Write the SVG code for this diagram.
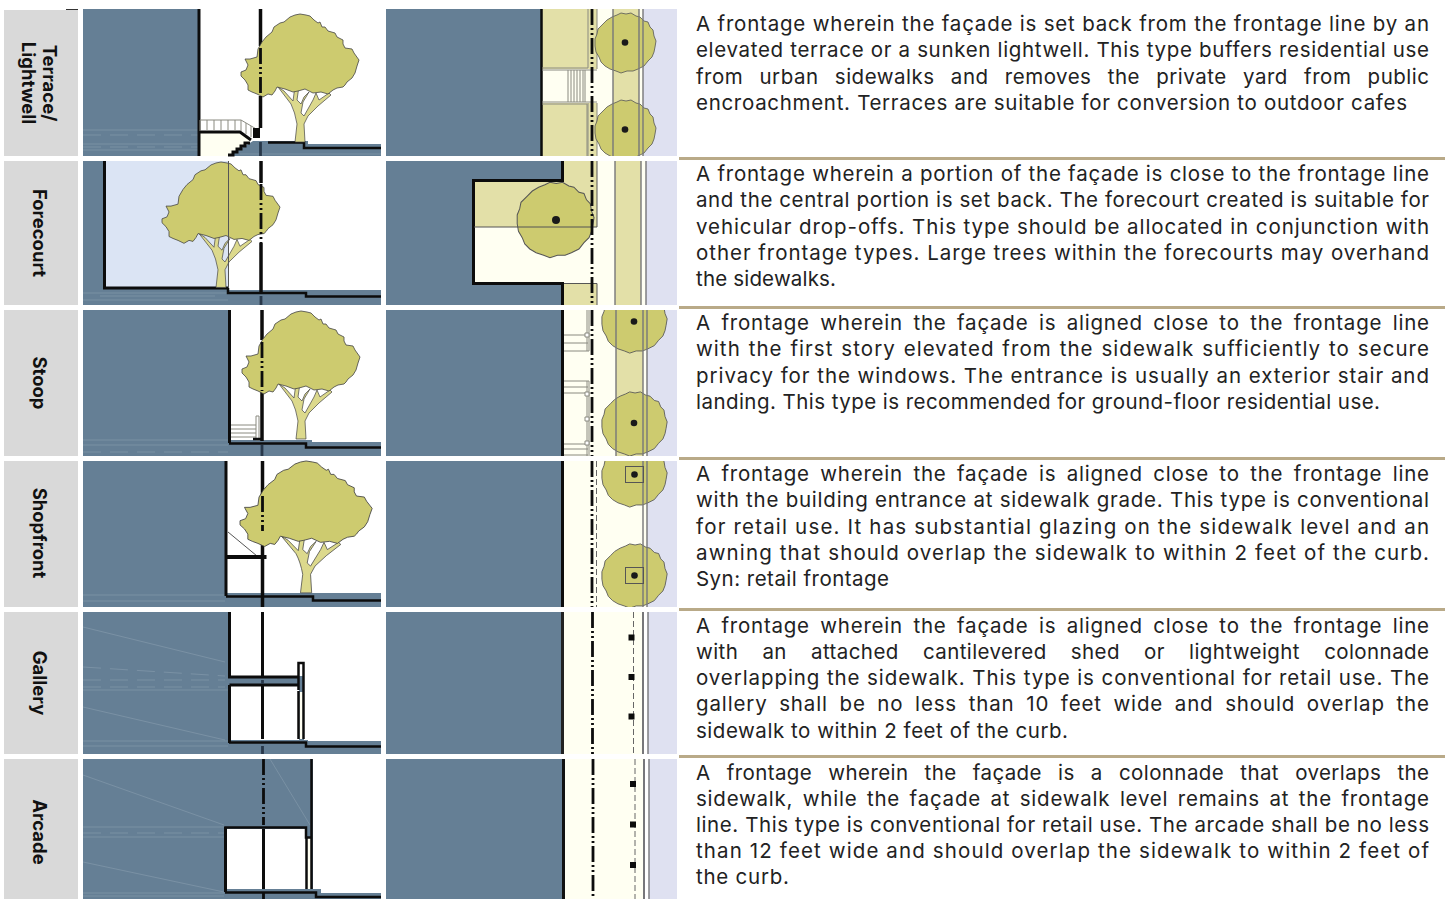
<svg xmlns="http://www.w3.org/2000/svg" xmlns:xlink="http://www.w3.org/1999/xlink" width="1453" height="899" viewBox="0 0 1453 899">
<style>
.bg{fill:#fff}
.lab{fill:#d9d9d9}
.lt{font-family:"Inter","Liberation Sans",sans-serif;font-size:18.5px;font-weight:700;fill:#111;text-anchor:middle}
.tx{font-family:"Inter","Liberation Sans",sans-serif;font-size:20.5px;fill:#222}
.b{fill:#657f95}
.y{fill:#e3e0a8}
.c{fill:#fffff2}
.lv{fill:#dfe1f1}
.k{fill:none;stroke:#0c0c0c;stroke-width:3}
.k2{fill:none;stroke:#0c0c0c;stroke-width:2.5}
.kf{fill:#0c0c0c}
.th{fill:none;stroke:#555;stroke-width:1}
.g{fill:none;stroke:#8a8a80;stroke-width:1}
.gl{fill:none;stroke:#77777a;stroke-width:1.4}
.dd{fill:none;stroke:#0c0c0c;stroke-width:2.8;stroke-dasharray:16 3 2 3 2 3}
.ds{fill:none;stroke:#666;stroke-width:1;stroke-dasharray:6 3}
.st{fill:none;stroke:#a9bac8;stroke-width:1;opacity:.3}
.sd{fill:none;stroke:#a9bac8;stroke-width:1;opacity:.3;stroke-dasharray:18 9}
.dot{fill:#1a1a1a}
.sep{fill:#b9aa88}
</style>
<defs>
<g id="tree" transform="translate(-241,-14)">
<path d="M295 142L297 124Q295 112 291 104L278 87L284 91L293 101L295 86L299 86L297 100L301 104L304 97L309 92L303 102L301 113L304 116L313 100L316 93L319 100L329 93L331 95L318 106L308 116L304 124L305 142Z" fill="#dcd98c" stroke="#444" stroke-width=".7"/>
<path d="M290 17L295 15L300 14L306 15L310 16L314 20L318 23L320 22L322 27L325 27L328 31L335 33L337 37L343 40L343 44L345 48L352 49L354 53L359 60L357 66L355 73L352 78L347 82L345 85L343 87L337 88L333 90L328 94L321 92L313 93L305 89L298 91L293 92L285 89L277 87L275 91L272 95L268 94L263 97L257 94L252 92L248 90L248 85L245 80L241 76L241 72L246 70L248 65L245 59L250 59L257 57L258 49L262 42L266 37L272 32L274 27L280 23L284 22Z" fill="#cdcb6f" stroke="#444" stroke-width=".8"/>
</g>
<path id="can" d="M-4-30L1-29L6-30L11-27L15-26L19-22L23-21L25-16L28-13L29-7L31-2L30 4L29 9L27 14L23 18L19 23L13 26L8 28L2 28L-4 30L-9 28L-15 26L-20 23L-24 19L-26 14L-29 9L-30 3L-30-4L-28-9L-27-14L-22-19L-18-23L-13-26L-8-28Z" fill="#cdcb6f" stroke="#555" stroke-width=".8"/>
<clipPath id="p1"><rect x="386" y="9" width="291" height="147"/></clipPath>
<clipPath id="p3"><rect x="386" y="310" width="291" height="146"/></clipPath>
<clipPath id="p4"><rect x="386" y="461" width="291" height="146"/></clipPath>
</defs>
<rect class="bg" width="1453" height="899"/>

<g id="separators">
<rect class="sep" x="679" y="157" width="766" height="3"/>
<rect class="sep" x="679" y="306" width="766" height="3"/>
<rect class="sep" x="679" y="457" width="766" height="3"/>
<rect class="sep" x="679" y="608" width="766" height="3"/>
<rect class="sep" x="679" y="755" width="766" height="3"/>
</g>

<g id="row-terrace">
<rect class="lab" x="4" y="10" width="74" height="146"/>
<path d="M66 9.500H78" stroke="#333" stroke-width="1" fill="none"/>
<text class="lt" transform="translate(43,83) rotate(90)">Terrace/</text>
<text class="lt" transform="translate(22,83) rotate(90)">Lightwell</text>
<rect class="b" x="83" y="9" width="116" height="147"/>
<path class="st" d="M83 130H198M83 144H198M83 150H198"/>
<path class="sd" d="M83 135H198M83 147H198"/>
<path class="c" d="M200 133H240L250 141L229 156H200Z"/>
<path class="b" d="M229 156L253 141H308V144H381V156Z"/>
<path class="st" d="M240 154H381"/>
<path class="k" d="M199 9V156"/>
<path class="k" d="M199 132H240L251 140"/>
<path class="k" d="M228 155H233V152H237V149H241V146H245V143H250"/>
<path class="g" d="M200 120H241L258 130M200 131V120M207 131V120M214 131V120M221 131V120M228 131V120M235 131V120M241 131V120M246 134V123M251 137V126"/>
<rect class="kf" x="253" y="128" width="7" height="10"/>
<path class="k2" d="M268 142.500H304V148H381"/>
<path class="k" style="stroke-width:3.500" d="M260.500 9V46M260.500 96V128"/>
<use xlink:href="#tree" href="#tree" transform="translate(241,14)"/>
<path class="dd" d="M260.500 48V97"/>
<path class="dd" d="M260.500 142V156" style="stroke:#28384a"/>
<rect class="b" x="386" y="9" width="155" height="147"/>
<rect class="y" x="542" y="9" width="55" height="60"/>
<rect class="c" x="542" y="69" width="55" height="34"/>
<rect class="y" x="542" y="103" width="55" height="53"/>
<rect class="c" x="597" y="9" width="16" height="147"/>
<rect class="y" x="613" y="9" width="26" height="147"/>
<rect class="c" x="639" y="9" width="4" height="147"/>
<rect class="lv" x="643" y="9" width="34" height="147"/>
<path class="k2" d="M541.500 9V156"/>
<path class="g" d="M542 68H588V9M542 70H597M542 102H597M542 104H587V156M588 103V156M597 9V69M597 103V156M568 70V102M571 70V102M574 70V102M577 70V102M580 70V102M583 70V102M585 70V102"/>
<path class="dd" d="M592 9V156"/>
<g clip-path="url(#p1)"><use xlink:href="#can" href="#can" transform="translate(625,43)"/><use xlink:href="#can" href="#can" transform="translate(625,130)"/></g>
<path class="gl" d="M613 9V156M639 9V156M643 9V156"/>
<circle class="dot" cx="625" cy="42.500" r="3.300"/><circle class="dot" cx="625" cy="129.500" r="3.300"/>
</g>

<g id="row-forecourt">
<rect class="lab" x="4" y="161" width="74" height="144"/>
<text class="lt" transform="translate(33,233) rotate(90)">Forecourt</text>
<rect class="b" x="83" y="161" width="298" height="144"/>
<rect x="105" y="161" width="124" height="127" fill="#dbe4f4"/>
<rect class="bg" x="229" y="161" width="152" height="129"/>
<path class="b" d="M229 290H312V293H381V296H229Z"/>
<path class="st" d="M83 293H228M83 300H228M100 296H215"/>
<path class="k" d="M104.500 161V288H228"/>
<path class="k2" d="M228 288V293H306V296.500H381"/>
<path class="k" style="stroke-width:3.500" d="M261 161V183M261 243V293"/>
<use xlink:href="#tree" href="#tree" transform="translate(162,162) scale(1,.98)"/>
<path class="th" d="M228.500 161V288"/>
<path class="dd" d="M261 184V243"/>
<path class="dd" d="M261 296V305" style="stroke:#28384a"/>
<rect class="b" x="386" y="161" width="177" height="144"/>
<rect class="y" x="474" y="181" width="123" height="46"/>
<rect class="y" x="563" y="161" width="34" height="20"/>
<rect class="c" x="474" y="227" width="141" height="56"/>
<rect class="y" x="563" y="283" width="34" height="22"/>
<rect class="c" x="597" y="161" width="18" height="144"/>
<rect class="y" x="615" y="161" width="26" height="144"/>
<rect class="c" x="641" y="161" width="5" height="144"/>
<rect class="lv" x="646" y="161" width="31" height="144"/>
<use xlink:href="#can" href="#can" transform="translate(555,220) scale(1.26)"/>
<path class="k" d="M562.500 161V180.500H473.500V283.500H562.500V305"/>
<path class="th" d="M474 227H597V161M564 283.500H597V305"/>
<path class="dd" d="M592 161V305"/>
<path class="gl" d="M615 161V305M641 161V305M646 161V305"/>
<circle class="dot" cx="556" cy="220" r="4"/>
</g>

<g id="row-stoop">
<rect class="lab" x="4" y="310" width="74" height="146"/>
<text class="lt" transform="translate(33,383) rotate(90)">Stoop</text>
<rect class="b" x="83" y="310" width="298" height="146"/>
<rect class="bg" x="231" y="310" width="150" height="132"/>
<path class="b" d="M231 440H312V443H381V447H231Z"/>
<path class="st" d="M83 440H228M83 445H228"/>
<path class="sd" d="M83 452H228"/>
<path class="k" d="M229.500 310V443"/>
<path class="k2" d="M229 443.500H306V447.500H381"/>
<path class="g" d="M231 425H256M231 429H256M231 433H256M231 437H256M256 416H259V440H256Z" style="fill:none"/>
<path class="k2" d="M253 439H262"/>
<path class="k" style="stroke-width:3.500" d="M262 310V340M262 390V441"/>
<use xlink:href="#tree" href="#tree" transform="translate(242,311)"/>
<path class="dd" d="M262 342V391"/>
<path class="dd" d="M262 445V456" style="stroke:#28384a"/>
<rect class="b" x="386" y="310" width="176" height="146"/>
<rect class="c" x="563" y="310" width="53" height="146"/>
<rect class="y" x="616" y="310" width="27" height="146"/>
<rect class="c" x="643" y="310" width="4" height="146"/>
<rect class="lv" x="647" y="310" width="30" height="146"/>
<path class="k" d="M562.500 310V456"/>
<path class="g" d="M564 335H588M564 343H588M564 351H589M564 381H589M564 387H588M564 393H588M564 444H588M564 449H588M564 455H588M587 310V351M589 310V351M587 381V456M589 381V456"/>
<path class="g" d="M585 333h4v4h-4zM585 392h4v4h-4zM585 417h4v4h-4zM585 441h4v4h-4z" style="fill:#fff"/>
<path class="dd" d="M592 310V456"/>
<g clip-path="url(#p3)"><use xlink:href="#can" href="#can" transform="translate(634,321) scale(1.07)"/><use xlink:href="#can" href="#can" transform="translate(634,424) scale(1.07)"/></g>
<path class="gl" d="M616 310V456M643 310V456M647 310V456"/>
<circle class="dot" cx="634" cy="321.500" r="3.300"/><circle class="dot" cx="634" cy="423" r="3.300"/>
</g>

<g id="row-shopfront">
<rect class="lab" x="4" y="461" width="74" height="146"/>
<text class="lt" transform="translate(33,533) rotate(90)">Shopfront</text>
<rect class="b" x="83" y="461" width="298" height="146"/>
<rect class="bg" x="227" y="461" width="154" height="132"/>
<path class="b" d="M227 593H318V597H381V600H227Z"/>
<path class="st" d="M83 595H225M83 601H225"/>
<path class="k" d="M226 461V596"/>
<path class="k2" d="M226 596.500H313V600.500H381"/>
<path class="th" d="M228 532L257 556"/>
<path class="k" style="stroke-width:4" d="M227 557H266.500"/>
<path class="k" style="stroke-width:3.500" d="M262.500 461V495M262.500 530V607"/>
<use xlink:href="#tree" href="#tree" transform="translate(240,461) scale(1.12,1.03)"/>
<path class="dd" d="M262.500 496V531"/>
<rect class="b" x="386" y="461" width="176" height="146"/>
<rect class="c" x="563" y="461" width="80" height="146"/>
<rect class="c" x="643" y="461" width="4" height="146"/>
<rect class="lv" x="647" y="461" width="30" height="146"/>
<path class="k" d="M562.500 461V607"/>
<path class="dd" d="M592 461V607"/>
<path class="ds" d="M596.500 461V607"/>
<g clip-path="url(#p4)"><use xlink:href="#can" href="#can" transform="translate(634,475) scale(1.07)"/><use xlink:href="#can" href="#can" transform="translate(634,576) scale(1.07)"/></g>
<path class="gl" d="M643 461V607M647 461V607"/>
<rect x="625.500" y="466.500" width="18" height="16" class="th"/><rect x="625.500" y="567.500" width="18" height="16" class="th"/>
<circle class="dot" cx="634.500" cy="474.500" r="3.300"/><circle class="dot" cx="634.500" cy="575.500" r="3.300"/>
</g>

<g id="row-gallery">
<rect class="lab" x="4" y="612" width="74" height="142"/>
<text class="lt" transform="translate(33,683) rotate(90)">Gallery</text>
<rect class="b" x="83" y="612" width="298" height="142"/>
<path class="sd" d="M83 667L225 676M83 680H225M83 687H225"/>
<path class="st" d="M83 690H228M83 627L225 662M83 707L225 740M83 741H228M83 746H228"/>
<rect class="bg" x="231" y="612" width="150" height="64"/>
<rect class="bg" x="304" y="676" width="77" height="65"/>
<rect class="bg" x="231" y="686" width="68" height="54"/>
<path class="b" d="M231 740H308V743H381V746H231Z"/>
<rect class="c" x="299.500" y="692" width="4" height="47"/>
<path class="k" d="M229.500 612V677H298M229.500 685H298M229.500 685V743"/>
<path class="k2" d="M229 742.500H306V746.500H381"/>
<path class="k2" d="M298.500 690V663H303.500V691M298.500 691V739M303.500 691V739"/>
<path class="k" d="M262.500 612V678M262.500 686V739"/>
<path class="dd" d="M262.500 680V684M262.500 746V754" style="stroke:#28384a"/>
<rect class="b" x="386" y="612" width="176" height="142"/>
<rect class="c" x="563" y="612" width="80" height="142"/>
<rect class="lv" x="648" y="612" width="29" height="142"/>
<path class="k" style="stroke:#222" d="M562.500 612V754"/>
<path class="dd" d="M592.500 612V754"/>
<path class="ds" d="M633.500 612V754"/>
<path class="gl" style="stroke-width:2" d="M643 612V754"/><path class="gl" d="M648 612V754"/>
<rect class="kf" x="628.500" y="634.500" width="6" height="6"/><rect class="kf" x="628.500" y="674" width="6" height="6"/><rect class="kf" x="628.500" y="713.500" width="6" height="6"/>
</g>

<g id="row-arcade">
<rect class="lab" x="4" y="759" width="74" height="140"/>
<text class="lt" transform="translate(33,832) rotate(90)">Arcade</text>
<rect class="b" x="83" y="759" width="298" height="140"/>
<rect class="bg" x="313" y="759" width="68" height="134"/>
<rect class="bg" x="227" y="829" width="79" height="60"/>
<path class="b" d="M226 889H321V893H381V897H226Z"/>
<path class="st" d="M83 827H224M83 837H224M83 775L224 825M83 862L224 892M83 893H224M83 896H224M270 759L310 825"/>
<path class="sd" d="M83 833H224"/>
<rect class="c" x="307" y="838" width="5" height="51"/>
<path class="k2" d="M225.500 892V827.500H306V837.500H311.500M311.500 759V837M306.500 837V889M311.500 837V889"/>
<path class="k" d="M225.500 827V892"/>
<path class="k2" d="M225 892.500H316V897H381"/>
<path class="k" d="M263.500 829V889"/>
<path class="dd" d="M263.500 759V825M263.500 892V899"/>
<rect class="b" x="386" y="759" width="177" height="140"/>
<rect class="c" x="564" y="759" width="79" height="140"/>
<rect class="lv" x="649" y="759" width="28" height="140"/>
<path class="k" d="M563.500 759V899" style="stroke:#111"/>
<path class="dd" d="M593 759V899"/>
<path class="ds" d="M635 759V899"/>
<path class="gl" style="stroke-width:2" d="M644 759V899"/><path class="gl" d="M649 759V899"/>
<rect class="kf" x="630" y="781" width="6" height="6"/><rect class="kf" x="630" y="821.500" width="6" height="6"/><rect class="kf" x="630" y="862" width="6" height="6"/>
</g>

<g id="descriptions">
<g class="tx">
<text x="696" y="31" textLength="733">A frontage wherein the façade is set back from the frontage line by an</text>
<text x="696" y="57" textLength="733">elevated terrace or a sunken lightwell. This type buffers residential use</text>
<text x="696" y="84" textLength="733" word-spacing="10">from urban sidewalks and removes the private yard from public</text>
<text x="696" y="110" textLength="711">encroachment. Terraces are suitable for conversion to outdoor cafes</text>
</g>
<g class="tx">
<text x="696" y="181" textLength="733">A frontage wherein a portion of the façade is close to the frontage line</text>
<text x="696" y="207" textLength="733">and the central portion is set back. The forecourt created is suitable for</text>
<text x="696" y="234" textLength="733">vehicular drop-offs. This type should be allocated in conjunction with</text>
<text x="696" y="260" textLength="733">other frontage types. Large trees within the forecourts may overhand</text>
<text x="696" y="286" textLength="140">the sidewalks.</text>
</g>
<g class="tx">
<text x="696" y="330" textLength="733" word-spacing="4">A frontage wherein the façade is aligned close to the frontage line</text>
<text x="696" y="356" textLength="733" word-spacing="1">with the first story elevated from the sidewalk sufficiently to secure</text>
<text x="696" y="383" textLength="733">privacy for the windows. The entrance is usually an exterior stair and</text>
<text x="696" y="409" textLength="684">landing. This type is recommended for ground-floor residential use.</text>
</g>
<g class="tx">
<text x="696" y="481" textLength="733" word-spacing="4">A frontage wherein the façade is aligned close to the frontage line</text>
<text x="696" y="507" textLength="733">with the building entrance at sidewalk grade. This type is conventional</text>
<text x="696" y="534" textLength="733">for retail use. It has substantial glazing on the sidewalk level and an</text>
<text x="696" y="560" textLength="733">awning that should overlap the sidewalk to within 2 feet of the curb.</text>
<text x="696" y="586" textLength="193">Syn: retail frontage</text>
</g>
<g class="tx">
<text x="696" y="633" textLength="733" word-spacing="4">A frontage wherein the façade is aligned close to the frontage line</text>
<text x="696" y="659" textLength="733" word-spacing="18">with an attached cantilevered shed or lightweight colonnade</text>
<text x="696" y="685" textLength="733">overlapping the sidewalk. This type is conventional for retail use. The</text>
<text x="696" y="711" textLength="733" word-spacing="5">gallery shall be no less than 10 feet wide and should overlap the</text>
<text x="696" y="738" textLength="372">sidewalk to within 2 feet of the curb.</text>
</g>
<g class="tx">
<text x="696" y="780" textLength="733" word-spacing="10">A frontage wherein the façade is a colonnade that overlaps the</text>
<text x="696" y="806" textLength="733" word-spacing="3">sidewalk, while the façade at sidewalk level remains at the frontage</text>
<text x="696" y="832" textLength="733">line. This type is conventional for retail use. The arcade shall be no less</text>
<text x="696" y="858" textLength="733">than 12 feet wide and should overlap the sidewalk to within 2 feet of</text>
<text x="696" y="884" textLength="93">the curb.</text>
</g>
</g>
</svg>
